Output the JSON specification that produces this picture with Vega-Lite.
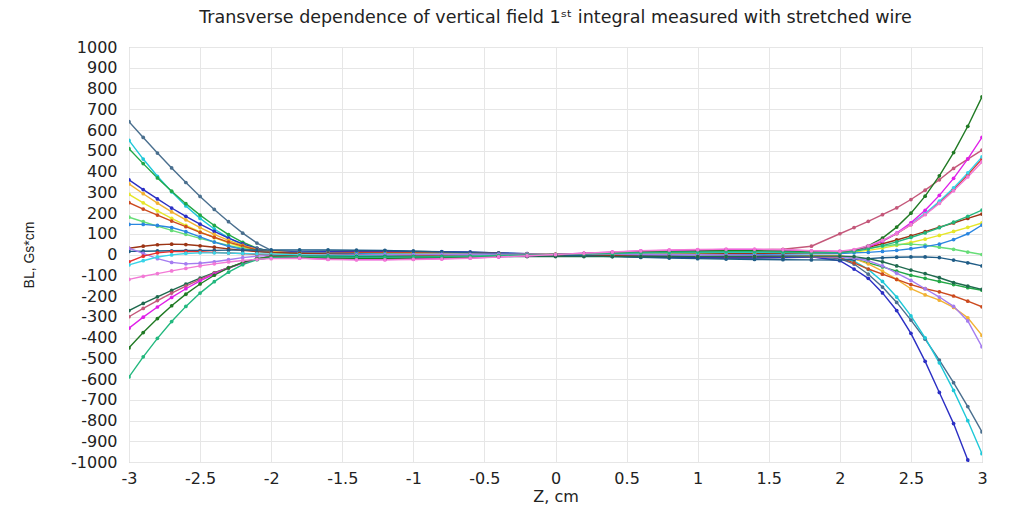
{
  "$schema": "https://vega.github.io/schema/vega-lite/v6.json",
  "width": 853,
  "height": 415,
  "autosize": {"type": "none"},
  "padding": {"left": 129, "top": 47, "right": 32, "bottom": 45},
  "background": "white",
  "title": {
    "text": "Transverse dependence of vertical field 1ˢᵗ integral measured with stretched wire",
    "font": "DejaVu Sans",
    "fontSize": 17.5,
    "fontWeight": "normal",
    "color": "#222222",
    "offset": 13,
    "anchor": "middle",
    "frame": "group"
  },
  "data": {
    "values": [
      {"z": -3, "a": 640, "b": 550, "c": 510, "d": 360, "e": 340, "f": 290, "g": 250, "h": 180, "i": 145, "j": 30, "k": 15, "l": 30, "m": -35, "n": -50, "o": -270, "p": -300, "q": -355, "r": -450, "s": -590, "t": -120},
      {"z": -2.9, "a": 564, "b": 460, "c": 438, "d": 313, "e": 293, "f": 249, "g": 219, "h": 158, "i": 145, "j": 40, "k": 16, "l": 5, "m": -8, "n": -30, "o": -236, "p": -260, "q": -302, "r": -376, "s": -493, "t": -105},
      {"z": -2.8, "a": 489, "b": 377, "c": 369, "d": 268, "e": 248, "f": 210, "g": 190, "h": 137, "i": 140, "j": 47, "k": 17, "l": -20, "m": 8, "n": -12, "o": -204, "p": -222, "q": -253, "r": -309, "s": -404, "t": -92},
      {"z": -2.7, "a": 417, "b": 302, "c": 305, "d": 224, "e": 205, "f": 174, "g": 161, "h": 116, "i": 130, "j": 50, "k": 18, "l": -38, "m": 14, "n": -2, "o": -173, "p": -186, "q": -207, "r": -247, "s": -323, "t": -79},
      {"z": -2.6, "a": 347, "b": 234, "c": 245, "d": 184, "e": 167, "f": 140, "g": 134, "h": 97, "i": 110, "j": 48, "k": 19, "l": -45, "m": 15, "n": 5, "o": -143, "p": -152, "q": -165, "r": -191, "s": -250, "t": -67},
      {"z": -2.5, "a": 280, "b": 174, "c": 190, "d": 146, "e": 130, "f": 109, "g": 107, "h": 78, "i": 85, "j": 42, "k": 20, "l": -42, "m": 13, "n": 8, "o": -114, "p": -120, "q": -127, "r": -142, "s": -186, "t": -55},
      {"z": -2.4, "a": 217, "b": 123, "c": 140, "d": 111, "e": 97, "f": 81, "g": 83, "h": 60, "i": 60, "j": 35, "k": 20, "l": -35, "m": 10, "n": 8, "o": -88, "p": -90, "q": -94, "r": -100, "s": -131, "t": -45},
      {"z": -2.3, "a": 158, "b": 80, "c": 96, "d": 79, "e": 68, "f": 56, "g": 60, "h": 44, "i": 40, "j": 27, "k": 21, "l": -25, "m": 7, "n": 7, "o": -63, "p": -64, "q": -65, "r": -65, "s": -85, "t": -36},
      {"z": -2.2, "a": 103, "b": 47, "c": 59, "d": 51, "e": 44, "f": 35, "g": 40, "h": 29, "i": 25, "j": 20, "k": 21, "l": -15, "m": 4, "n": 5, "o": -40, "p": -40, "q": -41, "r": -38, "s": -49, "t": -29},
      {"z": -2.1, "a": 55, "b": 25, "c": 31, "d": 29, "e": 25, "f": 19, "g": 22, "h": 17, "i": 15, "j": 14, "k": 22, "l": -8, "m": 1, "n": 3, "o": -21, "p": -22, "q": -23, "r": -20, "s": -25, "t": -23},
      {"z": -2, "a": 20, "b": 15, "c": 15, "d": 15, "e": 15, "f": 10, "g": 10, "h": 8, "i": 10, "j": 10, "k": 22, "l": -5, "m": 0, "n": 2, "o": -8, "p": -10, "q": -15, "r": -12, "s": -15, "t": -20},
      {"z": -1.8, "a": 12, "b": 9, "c": 8, "d": 11, "e": 6, "f": 8, "g": 7, "h": 5, "i": 8, "j": 6, "k": 22, "l": -4, "m": -8, "n": -2, "o": -8, "p": -15, "q": -17, "r": -12, "s": -9, "t": -18},
      {"z": -1.6, "a": 16, "b": 12, "c": 10, "d": 14, "e": 8, "f": 8, "g": 9, "h": 4, "i": 6, "j": 3, "k": 22, "l": -3, "m": -10, "n": -4, "o": -8, "p": -20, "q": -22, "r": -16, "s": -12, "t": -24},
      {"z": -1.4, "a": 18, "b": 13, "c": 11, "d": 15, "e": 9, "f": 7, "g": 10, "h": 3, "i": 4, "j": 0, "k": 21, "l": -2, "m": -11, "n": -6, "o": -9, "p": -22, "q": -24, "r": -18, "s": -13, "t": -26},
      {"z": -1.2, "a": 18, "b": 13, "c": 11, "d": 15, "e": 9, "f": 6, "g": 10, "h": 3, "i": 2, "j": -3, "k": 20, "l": -1, "m": -11, "n": -8, "o": -9, "p": -22, "q": -24, "r": -18, "s": -13, "t": -26},
      {"z": -1, "a": 16, "b": 12, "c": 10, "d": 14, "e": 8, "f": 5, "g": 9, "h": 2, "i": 0, "j": -5, "k": 16, "l": 0, "m": -10, "n": -9, "o": -10, "p": -20, "q": -22, "r": -16, "s": -12, "t": -24},
      {"z": -0.8, "a": 14, "b": 11, "c": 9, "d": 13, "e": 7, "f": 5, "g": 8, "h": 2, "i": -2, "j": -7, "k": 12, "l": 1, "m": -9, "n": -9, "o": -10, "p": -18, "q": -20, "r": -14, "s": -11, "t": -22},
      {"z": -0.6, "a": 12, "b": 9, "c": 8, "d": 11, "e": 6, "f": 4, "g": 7, "h": 1, "i": -4, "j": -8, "k": 9, "l": 1, "m": -8, "n": -8, "o": -10, "p": -15, "q": -17, "r": -12, "s": -9, "t": -18},
      {"z": -0.4, "a": 8, "b": 6, "c": 5, "d": 7, "e": 4, "f": 4, "g": 5, "h": 1, "i": -5, "j": -8, "k": 5, "l": 2, "m": -5, "n": -5, "o": -10, "p": -10, "q": -11, "r": -8, "s": -6, "t": -12},
      {"z": -0.2, "a": 4, "b": 3, "c": 3, "d": 4, "e": 2, "f": 3, "g": 2, "h": 0, "i": -6, "j": -7, "k": 2, "l": 2, "m": -3, "n": -3, "o": -10, "p": -5, "q": -6, "r": -4, "s": -3, "t": -6},
      {"z": 0, "a": 0, "b": 0, "c": 0, "d": 0, "e": 0, "f": 3, "g": 0, "h": 0, "i": -6, "j": -6, "k": -2, "l": 2, "m": 0, "n": 0, "o": -10, "p": 0, "q": 0, "r": 0, "s": 0, "t": 0},
      {"z": 0.2, "a": -4, "b": -3, "c": -3, "d": -4, "e": -2, "f": 3, "g": -2, "h": 0, "i": -6, "j": -5, "k": -6, "l": 2, "m": 3, "n": 3, "o": -10, "p": 5, "q": 6, "r": 4, "s": 3, "t": 6},
      {"z": 0.4, "a": -8, "b": -6, "c": -5, "d": -7, "e": -4, "f": 4, "g": -5, "h": 1, "i": -5, "j": -4, "k": -10, "l": 2, "m": 5, "n": 5, "o": -10, "p": 10, "q": 11, "r": 8, "s": 6, "t": 12},
      {"z": 0.6, "a": -12, "b": -9, "c": -8, "d": -11, "e": -6, "f": 4, "g": -7, "h": 1, "i": -4, "j": -2, "k": -14, "l": 1, "m": 8, "n": 8, "o": -10, "p": 15, "q": 17, "r": 12, "s": 9, "t": 18},
      {"z": 0.8, "a": -14, "b": -11, "c": -9, "d": -13, "e": -7, "f": 5, "g": -8, "h": 2, "i": -3, "j": 0, "k": -17, "l": 0, "m": 9, "n": 9, "o": -10, "p": 18, "q": 20, "r": 14, "s": 11, "t": 22},
      {"z": 1, "a": -16, "b": -12, "c": -10, "d": -14, "e": -8, "f": 5, "g": -9, "h": 3, "i": -2, "j": 2, "k": -20, "l": -1, "m": 10, "n": 10, "o": -10, "p": 20, "q": 22, "r": 16, "s": 12, "t": 24},
      {"z": 1.2, "a": -18, "b": -13, "c": -11, "d": -15, "e": -9, "f": 6, "g": -10, "h": 4, "i": -1, "j": 4, "k": -22, "l": -2, "m": 11, "n": 11, "o": -9, "p": 22, "q": 24, "r": 18, "s": 13, "t": 26},
      {"z": 1.4, "a": -18, "b": -13, "c": -11, "d": -15, "e": -9, "f": 6, "g": -10, "h": 5, "i": 0, "j": 6, "k": -24, "l": -4, "m": 11, "n": 11, "o": -9, "p": 22, "q": 24, "r": 18, "s": 13, "t": 26},
      {"z": 1.6, "a": -16, "b": -12, "c": -10, "d": -14, "e": -8, "f": 7, "g": -9, "h": 6, "i": 2, "j": 7, "k": -25, "l": -6, "m": 10, "n": 10, "o": -8, "p": 25, "q": 22, "r": 16, "s": 12, "t": 24},
      {"z": 1.8, "a": -12, "b": -9, "c": -8, "d": -11, "e": -6, "f": 8, "g": -10, "h": 7, "i": 3, "j": 8, "k": -26, "l": -10, "m": 8, "n": 8, "o": -8, "p": 40, "q": 17, "r": 12, "s": 9, "t": 18},
      {"z": 2, "a": -20, "b": -15, "c": -10, "d": -30, "e": -5, "f": 7, "g": -15, "h": 8, "i": 5, "j": 10, "k": -27, "l": -12, "m": 10, "n": 10, "o": -8, "p": 100, "q": 15, "r": 12, "s": 9, "t": 16},
      {"z": 2.1, "a": -46, "b": -32, "c": -20, "d": -70, "e": -20, "f": 12, "g": -40, "h": 18, "i": 8, "j": 20, "k": -24, "l": -18, "m": 18, "n": 18, "o": -10, "p": 130, "q": 21, "r": 19, "s": 15, "t": 24},
      {"z": 2.2, "a": -95, "b": -72, "c": -40, "d": -115, "e": -45, "f": 20, "g": -70, "h": 30, "i": 10, "j": 35, "k": -20, "l": -30, "m": 37, "n": 38, "o": -20, "p": 160, "q": 37, "r": 42, "s": 27, "t": 42},
      {"z": 2.3, "a": -157, "b": -130, "c": -60, "d": -185, "e": -80, "f": 31, "g": -95, "h": 40, "i": 15, "j": 52, "k": -16, "l": -55, "m": 65, "n": 66, "o": -35, "p": 192, "q": 65, "r": 79, "s": 43, "t": 68},
      {"z": 2.4, "a": -231, "b": -205, "c": -80, "d": -270, "e": -120, "f": 44, "g": -120, "h": 48, "i": 20, "j": 70, "k": -13, "l": -90, "m": 100, "n": 102, "o": -55, "p": 225, "q": 103, "r": 132, "s": 61, "t": 102},
      {"z": 2.5, "a": -316, "b": -296, "c": -100, "d": -380, "e": -165, "f": 58, "g": -145, "h": 50, "i": 28, "j": 90, "k": -12, "l": -125, "m": 144, "n": 147, "o": -75, "p": 265, "q": 153, "r": 199, "s": 82, "t": 144},
      {"z": 2.6, "a": -408, "b": -402, "c": -115, "d": -515, "e": -195, "f": 74, "g": -165, "h": 45, "i": 38, "j": 110, "k": -12, "l": -165, "m": 194, "n": 198, "o": -92, "p": 310, "q": 213, "r": 281, "s": 104, "t": 192},
      {"z": 2.7, "a": -509, "b": -522, "c": -130, "d": -665, "e": -220, "f": 92, "g": -180, "h": 35, "i": 50, "j": 132, "k": -15, "l": -205, "m": 251, "n": 257, "o": -112, "p": 360, "q": 285, "r": 379, "s": 129, "t": 246},
      {"z": 2.8, "a": -618, "b": -655, "c": -145, "d": -815, "e": -255, "f": 111, "g": -200, "h": 25, "i": 72, "j": 152, "k": -27, "l": -250, "m": 315, "n": 321, "o": -135, "p": 415, "q": 367, "r": 491, "s": 156, "t": 307},
      {"z": 2.9, "a": -733, "b": -801, "c": -160, "d": -990, "e": -305, "f": 131, "g": -225, "h": 12, "i": 100, "j": 174, "k": -40, "l": -320, "m": 384, "n": 393, "o": -152, "p": 460, "q": 461, "r": 618, "s": 184, "t": 374},
      {"z": 3, "a": -855, "b": -960, "c": -172, "d": -1170, "e": -390, "f": 152, "g": -252, "h": 0, "i": 142, "j": 195, "k": -55, "l": -445, "m": 460, "n": 470, "o": -168, "p": 503, "q": 565, "r": 760, "s": 214, "t": 446}
    ]
  },
  "transform": [
    {"fold": ["a", "b", "c", "d", "e", "f", "g", "h", "i", "j", "k", "l", "m", "n", "o", "p", "q", "r", "s", "t"], "as": ["series", "BL"]}
  ],
  "encoding": {
    "x": {
      "field": "z",
      "type": "quantitative",
      "scale": {"domain": [-3, 3], "nice": false, "zero": false},
      "axis": {
        "values": [-3, -2.5, -2, -1.5, -1, -0.5, 0, 0.5, 1, 1.5, 2, 2.5, 3],
        "labelExpr": "datum.value + ''",
        "labelFlush": false,
        "grid": true,
        "gridColor": "#e6e6e6",
        "ticks": false,
        "domain": false,
        "labelFont": "DejaVu Sans",
        "labelFontSize": 16,
        "labelColor": "#222222",
        "labelPadding": 8,
        "title": "Z, cm",
        "titleFont": "DejaVu Sans",
        "titleFontSize": 16,
        "titleFontWeight": "normal",
        "titleColor": "#222222",
        "titlePadding": 2
      }
    },
    "y": {
      "field": "BL",
      "type": "quantitative",
      "scale": {"domain": [-1000, 1000], "nice": false},
      "axis": {
        "values": [-1000, -900, -800, -700, -600, -500, -400, -300, -200, -100, 0, 100, 200, 300, 400, 500, 600, 700, 800, 900, 1000],
        "labelExpr": "datum.value + ''",
        "labelFlush": false,
        "grid": true,
        "gridColor": "#e6e6e6",
        "ticks": false,
        "domain": false,
        "labelFont": "DejaVu Sans",
        "labelFontSize": 16,
        "labelColor": "#222222",
        "labelPadding": 12,
        "title": "BL, Gs*cm",
        "titleFont": "Liberation Sans",
        "titleFontSize": 14,
        "titleFontWeight": "normal",
        "titleColor": "#222222",
        "titlePadding": 34
      }
    },
    "color": {
      "field": "series",
      "type": "nominal",
      "scale": {
        "domain": ["a", "b", "c", "d", "e", "f", "g", "h", "i", "j", "k", "l", "m", "n", "o", "p", "q", "r", "s", "t"],
        "range": ["#4a6f8e", "#1ec8d8", "#22a846", "#2b2fc4", "#f2b233", "#e6e62a", "#cc4a1e", "#66dd77", "#2a86e0", "#9c3414", "#1f5c86", "#a47cf0", "#e8302e", "#38d4e8", "#1f6a4e", "#c4587a", "#e020e8", "#207a24", "#22b87e", "#f27ad6"]
      },
      "legend": null
    }
  },
  "layer": [
    {"mark": {"type": "line", "strokeWidth": 1.4, "clip": true}},
    {"mark": {"type": "point", "filled": true, "size": 14, "opacity": 1, "clip": true}}
  ],
  "config": {
    "view": {"stroke": "#b4b4b4"}
  }
}
